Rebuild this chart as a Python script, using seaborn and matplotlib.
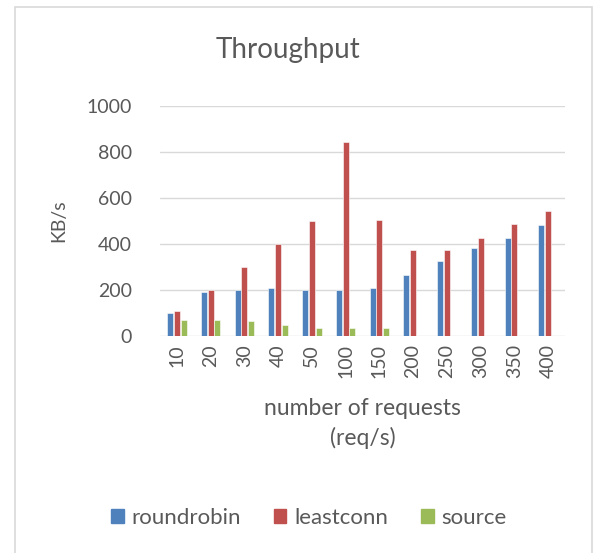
import matplotlib
matplotlib.use("Agg")
import matplotlib.pyplot as plt
from matplotlib.patches import Rectangle
import seaborn as sns
import pandas as pd
import numpy as np

# values
requests = ["10", "20", "30", "40", "50", "100", "150", "200", "250", "300", "350", "400"]
roundrobin = [102, 192, 199, 208, 202, 199, 209, 264, 327, 382, 427, 482]
leastconn = [109, 202, 298, 398, 498, 845, 505, 376, 376, 427, 488, 543]
source = [70, 70, 64, 46, 36, 36, 36, np.nan, np.nan, np.nan, np.nan, np.nan]
series = ["roundrobin", "leastconn", "source"]
colors = ["#4F81BD", "#C0504D", "#9BBB59"]

df = pd.DataFrame({
    "requests": requests * 3,
    "value": roundrobin + leastconn + source,
    "series": [s for s in series for _ in requests],
})

sns.set_theme(style="white")
plt.rcParams["font.family"] = ["Lato", "DejaVu Sans"]
txt = "#595959"
fs = 14

fig = plt.figure(figsize=(5.95, 5.53), dpi=100)
ax = fig.add_axes([160 / 595, 1 - 336 / 553, 405 / 595, 230 / 553])

sns.barplot(data=df, x="requests", y="value", hue="series", order=requests,
            hue_order=series, palette=colors, width=0.6, gap=0.08,
            edgecolor="white", linewidth=0.4, saturation=1, ax=ax)

ax.set_ylim(0, 1000)
ax.set_yticks(range(0, 1001, 200))
ax.yaxis.grid(True, color="#D9D9D9", linewidth=1)
ax.set_axisbelow(True)
for s in ax.spines.values():
    s.set_visible(False)
ax.tick_params(axis="y", length=0, pad=20, labelsize=fs, labelcolor=txt)
ax.tick_params(axis="x", length=0, pad=6, labelsize=fs, labelcolor=txt, rotation=90)
ax.set_xlim(-0.5, len(requests) - 0.5)

ax.set_ylabel("KB/s", fontsize=fs, color=txt, labelpad=14)
ax.set_xlabel("number of requests\n(req/s)", fontsize=16.5, color=txt,
              labelpad=14, linespacing=1.45)

fig.text(288 / 595, 1 - 50 / 553, "Throughput", fontsize=20, color=txt,
         ha="center", va="center")

ax.legend_.remove()
handles = [Rectangle((0, 0), 1, 1, color=c) for c in colors]
fig.legend(handles, series, loc="center", bbox_to_anchor=(309 / 595, 1 - 518 / 553),
           ncol=3, frameon=False, fontsize=16, labelcolor=txt,
           handlelength=0.55, handleheight=0.55, handletextpad=0.35, columnspacing=1.5)

fig.patches.append(Rectangle((15 / 595, -0.05), 577 / 595, 1.05 - 7 / 553,
                             transform=fig.transFigure, fill=False,
                             edgecolor="#D9D9D9", linewidth=1.2))

fig.savefig("out.png", dpi=100)
